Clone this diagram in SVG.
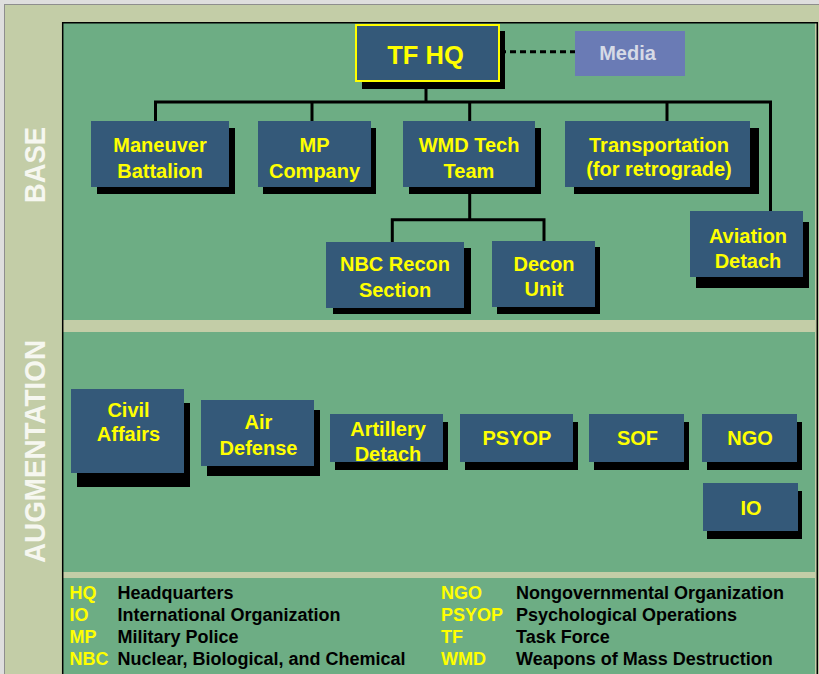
<svg xmlns="http://www.w3.org/2000/svg" width="819" height="674" viewBox="0 0 819 674">
<style>
.box{fill:#345979}
.sh{fill:#000}
.t{font-family:"Liberation Sans",Arial,sans-serif;font-weight:bold;font-size:20px;fill:#FFFF00;text-anchor:middle}
.side{font-family:"Liberation Sans",Arial,sans-serif;font-weight:bold;font-size:29px;fill:#F6F7F0;text-anchor:middle}
.lg{font-family:"Liberation Sans",Arial,sans-serif;font-weight:bold;font-size:18px}
.ab{fill:#FFFF00}
.ds{fill:#000}
.conn{stroke:#000;stroke-width:3;fill:none}
</style>
<rect x="0" y="0" width="819" height="674" fill="#DEDEDE"/>
<rect x="4.5" y="4.5" width="830" height="690" fill="#C3CDA7" stroke="#8E8E8E" stroke-width="1"/>
<rect x="63" y="23" width="752" height="297" fill="#6DAD84"/>
<rect x="63" y="332" width="752" height="240" fill="#6DAD84"/>
<rect x="63" y="578" width="752" height="96" fill="#6DAD84"/>
<path d="M62.7,674 V22.7 H817.3 V674" fill="none" stroke="#000" stroke-width="1.5"/>

<text class="side" transform="translate(45,165) rotate(-90)" textLength="76" lengthAdjust="spacingAndGlyphs">BASE</text>
<text class="side" transform="translate(45,451.5) rotate(-90)" textLength="223" lengthAdjust="spacingAndGlyphs">AUGMENTATION</text>

<g id="connectors">
<line class="conn" x1="426" y1="80" x2="426" y2="102"/>
<path class="conn" d="M155.5,121 V102 H770.5 V211"/>
<line class="conn" x1="312" y1="102" x2="312" y2="121"/>
<line class="conn" x1="469.7" y1="102" x2="469.7" y2="121"/>
<line class="conn" x1="667" y1="102" x2="667" y2="121"/>
<path class="conn" d="M469.7,187 V219.7"/>
<path class="conn" d="M392.3,242 V219.7 H544 V241"/>
<line class="conn" x1="500" y1="51.7" x2="575" y2="51.7" stroke-dasharray="6 4"/>
</g>

<g id="tfhq">
<rect class="sh" x="362" y="31" width="143" height="58"/>
<rect class="box" x="356" y="25" width="143" height="56" stroke="#FFFF00" stroke-width="2"/>
<text class="t" x="425.5" y="64" style="font-size:25.5px">TF HQ</text>
</g>
<g id="media">
<rect x="575" y="31" width="110" height="45" fill="#6A7BB5"/>
<text class="t" x="627.5" y="59.5" style="fill:#D6DAE6">Media</text>
</g>

<g id="maneuver">
<rect class="sh" x="97" y="128" width="138" height="66"/>
<rect class="box" x="91" y="121" width="138" height="66"/>
<text class="t" x="160" y="152">Maneuver</text>
<text class="t" x="160" y="178">Battalion</text>
</g>
<g id="mp">
<rect class="sh" x="263" y="128" width="113" height="66"/>
<rect class="box" x="258" y="121" width="113" height="66"/>
<text class="t" x="314.5" y="152">MP</text>
<text class="t" x="314.5" y="178">Company</text>
</g>
<g id="wmd">
<rect class="sh" x="409" y="128" width="132" height="66"/>
<rect class="box" x="403" y="121" width="132" height="66"/>
<text class="t" x="469" y="152">WMD Tech</text>
<text class="t" x="469" y="178">Team</text>
</g>
<g id="transport">
<rect class="sh" x="574" y="128" width="185" height="66"/>
<rect class="box" x="565" y="121" width="185" height="66"/>
<text class="t" x="659" y="151.5">Transportation</text>
<text class="t" x="659" y="175.5">(for retrograde)</text>
</g>
<g id="aviation">
<rect class="sh" x="696" y="222" width="113" height="66"/>
<rect class="box" x="690" y="211" width="113" height="66"/>
<text class="t" x="748" y="243">Aviation</text>
<text class="t" x="748" y="267.5">Detach</text>
</g>
<g id="nbc">
<rect class="sh" x="333" y="248" width="138" height="66"/>
<rect class="box" x="326" y="242" width="138" height="66"/>
<text class="t" x="395" y="271">NBC Recon</text>
<text class="t" x="395" y="296.5">Section</text>
</g>
<g id="decon">
<rect class="sh" x="497" y="247" width="103" height="67"/>
<rect class="box" x="492" y="241" width="103" height="66"/>
<text class="t" x="544" y="271">Decon</text>
<text class="t" x="544" y="295.5">Unit</text>
</g>

<g id="civil">
<rect class="sh" x="77" y="403" width="113" height="84"/>
<rect class="box" x="71" y="389" width="113" height="84"/>
<text class="t" x="128.5" y="416.5">Civil</text>
<text class="t" x="128.5" y="440.5">Affairs</text>
</g>
<g id="airdef">
<rect class="sh" x="207" y="410" width="113" height="66"/>
<rect class="box" x="201" y="400" width="113" height="66"/>
<text class="t" x="258.5" y="429">Air</text>
<text class="t" x="258.5" y="455">Defense</text>
</g>
<g id="artillery">
<rect class="sh" x="335" y="422" width="113" height="48"/>
<rect class="box" x="330" y="414" width="113" height="48"/>
<text class="t" x="388" y="436">Artillery</text>
<text class="t" x="388" y="461">Detach</text>
</g>
<g id="psyop">
<rect class="sh" x="465" y="422" width="113" height="48"/>
<rect class="box" x="460" y="414" width="113" height="48"/>
<text class="t" x="517" y="444.5">PSYOP</text>
</g>
<g id="sof">
<rect class="sh" x="594" y="422" width="95" height="48"/>
<rect class="box" x="589" y="414" width="95" height="48"/>
<text class="t" x="637.5" y="444.5">SOF</text>
</g>
<g id="ngo">
<rect class="sh" x="707" y="422" width="95" height="48"/>
<rect class="box" x="702" y="414" width="95" height="48"/>
<text class="t" x="750" y="444.5">NGO</text>
</g>
<g id="io">
<rect class="sh" x="707" y="491" width="95" height="48"/>
<rect class="box" x="703" y="483" width="95" height="48"/>
<text class="t" x="751" y="514.5">IO</text>
</g>

<g id="legend" class="lg">
<text class="ab" x="69.5" y="598.5">HQ</text><text class="ds" x="117.5" y="598.5">Headquarters</text>
<text class="ab" x="69.5" y="620.5">IO</text><text class="ds" x="117.5" y="620.5">International Organization</text>
<text class="ab" x="69.5" y="642.5">MP</text><text class="ds" x="117.5" y="642.5">Military Police</text>
<text class="ab" x="69.5" y="665">NBC</text><text class="ds" x="117.5" y="665">Nuclear, Biological, and Chemical</text>
<text class="ab" x="441" y="598.5">NGO</text><text class="ds" x="516" y="598.5">Nongovernmental Organization</text>
<text class="ab" x="441" y="620.5">PSYOP</text><text class="ds" x="516" y="620.5">Psychological Operations</text>
<text class="ab" x="441" y="642.5">TF</text><text class="ds" x="516" y="642.5">Task Force</text>
<text class="ab" x="441" y="665">WMD</text><text class="ds" x="516" y="665">Weapons of Mass Destruction</text>
</g>
</svg>
